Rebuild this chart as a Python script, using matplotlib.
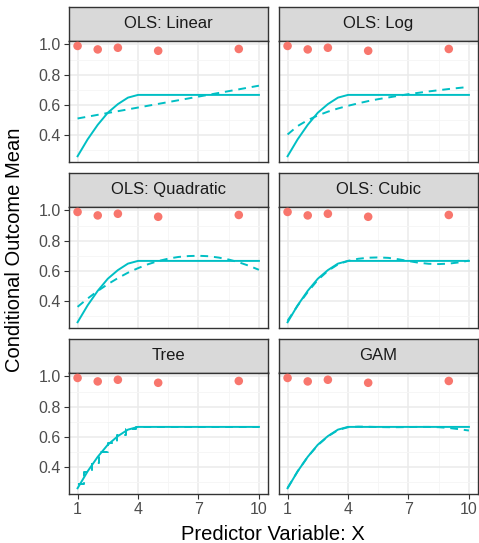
#!/usr/bin/env python3
# -*- coding: utf-8 -*-
"""Six-panel facet: true conditional mean vs. model fits."""

import matplotlib as mpl
import matplotlib.pyplot as plt
from matplotlib.ticker import FixedLocator

mpl.rcParams["font.family"] = ["Liberation Sans", "DejaVu Sans"]

# =======================
# Data
# =======================
PANELS = ["OLS: Linear", "OLS: Log", "OLS: Quadratic", "OLS: Cubic", "Tree", "GAM"]

PT_X = [1, 2, 3, 5, 9]
PT_Y = [0.99, 0.967, 0.978, 0.958, 0.97]

GRID_X = [1, 1.5, 2, 2.5, 3, 3.5, 4, 4.5, 5, 5.5, 6, 6.5, 7, 7.5, 8, 8.5, 9, 9.5, 10]
TRUE_Y = [0.26, 0.372, 0.468, 0.548, 0.605, 0.648, 0.666, 0.666, 0.666, 0.666,
          0.666, 0.666, 0.666, 0.666, 0.666, 0.666, 0.666, 0.666, 0.666]

LIN_X = [1, 10]
LIN_Y = [0.51, 0.727]

LOG_Y = [0.404, 0.460, 0.499, 0.530, 0.555, 0.576, 0.594, 0.610, 0.625, 0.638,
         0.649, 0.660, 0.671, 0.680, 0.689, 0.697, 0.705, 0.712, 0.719]

QUAD_Y = [0.362, 0.417, 0.467, 0.512, 0.552, 0.588, 0.618, 0.644, 0.665, 0.681,
          0.692, 0.698, 0.700, 0.697, 0.688, 0.675, 0.657, 0.634, 0.607]

CUBIC_Y = [0.27, 0.37, 0.46, 0.54, 0.60, 0.643, 0.666, 0.680, 0.687, 0.689,
           0.686, 0.677, 0.665, 0.654, 0.647, 0.645, 0.648, 0.656, 0.668]

GAM_Y = [0.262, 0.372, 0.468, 0.545, 0.603, 0.645, 0.664, 0.668, 0.667, 0.665,
         0.664, 0.664, 0.665, 0.666, 0.666, 0.664, 0.659, 0.651, 0.642]

TREE_X = [1, 1.3, 1.3, 1.7, 1.7, 2.05, 2.05, 2.5, 2.5, 2.95, 2.95, 3.4, 3.4, 3.9, 3.9, 10]
TREE_Y = [0.285, 0.285, 0.37, 0.37, 0.43, 0.43, 0.50, 0.50, 0.56, 0.56, 0.615, 0.615,
          0.655, 0.655, 0.664, 0.664]

FITS = {
    "OLS: Linear": (LIN_X, LIN_Y),
    "OLS: Log": (GRID_X, LOG_Y),
    "OLS: Quadratic": (GRID_X, QUAD_Y),
    "OLS: Cubic": (GRID_X, CUBIC_Y),
    "Tree": (TREE_X, TREE_Y),
    "GAM": (GRID_X, GAM_Y),
}

# =======================
# Style
# =======================
W, H = 479, 543
PT_COLOR = "#F8766D"
LINE_COLOR = "#00BFC4"
BORDER = "#333333"
STRIP_FILL = "#D9D9D9"
TICK_COLOR = "#4D4D4D"

COL_LEFT = [68.5, 278.5]
COL_W = 199.5
ROW_TOP = [7.0, 173.0, 339.0]
STRIP_H = 33.5
PANEL_H = 121.5


def frac(x, y, w, h):
    return [x / W, 1 - (y + h) / H, w / W, h / H]


def main():
    fig = plt.figure(figsize=(W / 100, H / 100), dpi=100)

    for i, name in enumerate(PANELS):
        r, c = divmod(i, 2)
        x0 = COL_LEFT[c]
        top = ROW_TOP[r]

        sax = fig.add_axes(frac(x0, top, COL_W, STRIP_H))
        sax.set_facecolor(STRIP_FILL)
        sax.set_xticks([])
        sax.set_yticks([])
        for sp in sax.spines.values():
            sp.set_color(BORDER)
            sp.set_linewidth(1.0)
        sax.text(0.5, 0.5, name, ha="center", va="center", fontsize=12,
                 color="#1A1A1A", transform=sax.transAxes)

        ax = fig.add_axes(frac(x0, top + STRIP_H, COL_W, PANEL_H))
        ax.set_xlim(0.55, 10.45)
        ax.set_ylim(0.222, 1.026)
        ax.xaxis.set_major_locator(FixedLocator([1, 4, 7, 10]))
        ax.xaxis.set_minor_locator(FixedLocator([2.5, 5.5, 8.5]))
        ax.yaxis.set_major_locator(FixedLocator([0.4, 0.6, 0.8, 1.0]))
        ax.yaxis.set_minor_locator(FixedLocator([0.3, 0.5, 0.7, 0.9]))
        ax.grid(which="major", color="#EBEBEB", linewidth=1.1)
        ax.grid(which="minor", color="#F5F5F5", linewidth=0.6)
        ax.set_axisbelow(True)
        for sp in ax.spines.values():
            sp.set_color(BORDER)
            sp.set_linewidth(1.0)

        ax.tick_params(which="minor", length=0)
        ax.tick_params(which="major", length=3.5, width=0.8, color=BORDER,
                       labelsize=11.5, labelcolor=TICK_COLOR, pad=2)
        if c == 0:
            ax.set_yticklabels(["0.4", "0.6", "0.8", "1.0"])
        else:
            ax.tick_params(axis="y", length=0, labelleft=False)
        if r == 2:
            ax.set_xticklabels(["1", "4", "7", "10"])
        else:
            ax.tick_params(axis="x", length=0, labelbottom=False)

        ax.plot(GRID_X, TRUE_Y, color=LINE_COLOR, linewidth=1.4, zorder=3)
        fx, fy = FITS[name]
        ax.plot(fx, fy, color=LINE_COLOR, linewidth=1.4, linestyle=(0, (4, 3)), zorder=3)
        ax.scatter(PT_X, PT_Y, s=38, color=PT_COLOR, edgecolors="none", zorder=4)

    fig.text(273 / W, 1 - 534 / H, "Predictor Variable: X", ha="center", va="center",
             fontsize=14.5, color="black")
    fig.text(15 / W, 1 - 250 / H, "Conditional Outcome Mean", ha="center", va="center",
             rotation=90, fontsize=14.5, color="black")

    fig.savefig("out.png", dpi=100)


if __name__ == "__main__":
    main()
